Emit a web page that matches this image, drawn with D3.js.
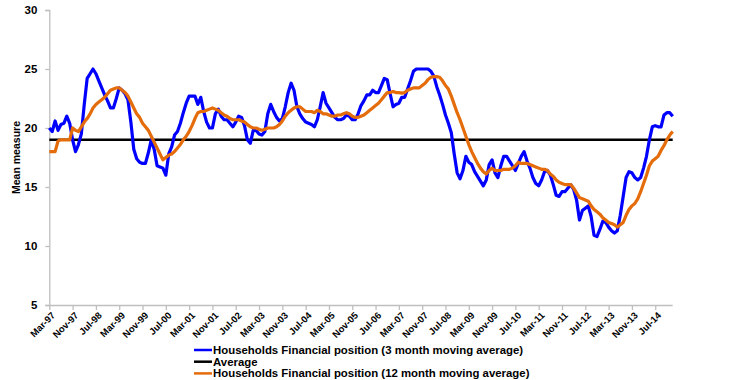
<!DOCTYPE html>
<html>
<head>
<meta charset="utf-8">
<script src="https://cdn.jsdelivr.net/npm/d3@7"></script>
<style>
  body { margin: 0; background: #fff; }
  svg { display: block; font-family: "Liberation Sans", Arial, sans-serif; }
</style>
</head>
<body>
<svg width="740" height="380"></svg>
<script>
// monthly series, Mar-97 .. Jan-15
const startMonth = new Date(1997, 2, 1);

const threeMonthAvg = [
  20.0, 19.7, 20.6, 19.8, 20.3, 20.4, 21.0, 20.4, 19.0, 18.0,
  18.6, 19.5, 22.0, 24.2, 24.6, 25.0, 24.6, 24.0, 23.4, 22.8,
  22.3, 21.7, 21.7, 22.5, 23.4, 23.2, 22.9, 22.4, 20.5, 18.2,
  17.4, 17.1, 17.0, 17.0, 17.9, 19.0, 18.2, 16.8, 16.7, 16.6,
  16.0, 17.8, 18.4, 19.4, 19.7, 20.4, 21.3, 22.1, 22.7, 22.7,
  22.7, 22.0, 22.6, 21.4, 20.5, 20.0, 20.0, 21.2, 21.6, 21.0,
  20.7, 20.7, 20.4, 20.1, 20.5, 21.0, 20.9, 20.2, 19.0, 18.7,
  19.8, 19.8, 19.5, 19.4, 19.7, 21.2, 22.0, 21.4, 20.9, 20.6,
  20.8, 21.8, 23.0, 23.8, 23.2, 21.8, 21.2, 20.8, 20.5, 20.4,
  20.3, 20.1, 20.7, 21.8, 23.0, 22.1, 21.7, 21.3, 20.9, 20.7,
  20.7, 20.8, 21.1, 21.0, 20.7, 20.7, 21.2, 21.9, 22.3, 22.8,
  22.8, 23.2, 23.0, 23.0, 23.6, 24.2, 24.1, 22.9, 21.8, 22.0,
  22.1, 22.6, 22.6, 23.3, 24.0, 24.8, 25.0, 25.0, 25.0, 25.0,
  25.0, 24.8, 24.4, 23.5, 22.8, 22.0, 21.1, 20.4, 19.6, 17.8,
  16.2, 15.7, 16.4, 17.6, 17.1, 16.9, 16.3, 15.9, 15.5, 15.1,
  15.6, 16.9, 17.3, 16.2, 15.8, 16.8, 17.6, 17.6, 17.2, 16.8,
  16.4, 17.0, 17.6, 18.0, 17.2, 16.6, 15.8, 15.3, 15.1, 15.6,
  16.3, 16.4, 16.0, 15.2, 14.3, 14.2, 14.6, 14.6, 14.9, 15.2,
  14.8, 13.9, 12.2, 13.0, 13.2, 13.4, 12.5, 10.9, 10.8, 11.4,
  12.1, 12.0, 11.6, 11.3, 11.1, 11.3, 12.6, 14.2, 15.8, 16.3,
  16.2, 15.8, 15.6, 15.8, 16.6, 17.6, 19.0, 20.1, 20.2, 20.1,
  20.1, 21.1, 21.3, 21.3, 21.0
];

const twelveMonthAvg = [
  18.0, 18.0, 18.0, 18.9, 19.0, 19.0, 19.0, 19.0, 20.0, 19.8,
  19.7, 20.1, 20.5, 20.8, 21.2, 21.7, 22.0, 22.2, 22.4, 22.6,
  22.9, 23.2, 23.3, 23.4, 23.4, 23.2, 23.0, 22.7, 22.2, 21.7,
  21.2, 20.9, 20.4, 20.1, 19.8, 19.3, 18.8, 18.3, 17.8, 17.3,
  17.5, 17.7, 17.8, 18.0, 18.3, 18.6, 19.0, 19.3, 19.7, 20.2,
  20.8, 21.3, 21.4, 21.4, 21.5, 21.6, 21.7, 21.6, 21.5, 21.3,
  21.1, 21.0, 20.8, 20.7, 20.7, 20.7, 20.6, 20.5, 20.3, 20.1,
  20.0, 20.0, 19.9, 19.8, 19.9, 20.0, 20.0, 20.0, 20.1, 20.3,
  20.6, 21.0, 21.3, 21.5, 21.7, 21.8, 21.8, 21.6, 21.4, 21.4,
  21.4, 21.3, 21.5, 21.4, 21.2, 21.2, 21.1, 21.0, 21.0, 21.1,
  21.1, 21.2, 21.3, 21.2, 21.0, 20.9, 20.9, 21.0, 21.1, 21.3,
  21.5, 21.7, 21.9, 22.1, 22.4, 22.7, 23.0, 23.0, 23.1, 23.0,
  23.0, 22.95, 23.0, 23.2, 23.3, 23.4, 23.4, 23.4, 23.6, 23.8,
  24.1, 24.3, 24.35, 24.35, 24.3, 24.0, 23.6, 23.3, 22.7, 22.0,
  21.3, 20.7, 20.0, 19.3, 18.6, 18.0, 17.5, 17.0, 16.6, 16.3,
  16.1, 16.4, 16.6, 16.4, 16.4, 16.4, 16.5, 16.5, 16.5, 16.6,
  16.8, 17.1, 17.0, 17.0, 17.0, 16.9, 16.8, 16.7, 16.6, 16.5,
  16.5, 16.4, 16.1, 15.9, 15.6, 15.4, 15.3, 15.2, 15.2, 15.2,
  14.9, 14.5, 14.1, 14.0, 13.9, 13.8, 13.4, 13.1, 12.9, 12.7,
  12.4, 12.2, 12.0, 11.9, 11.8, 11.6, 11.8, 12.0, 12.6, 13.1,
  13.4, 13.6, 14.0, 14.6, 15.3, 16.0, 16.8, 17.2, 17.4, 17.6,
  18.1, 18.5, 19.0, 19.4, 19.7
];

const averageValue = 19.0;

const tickLabels = [
  "Mar-97", "Nov-97", "Jul-98", "Mar-99", "Nov-99", "Jul-00", "Mar-01",
  "Nov-01", "Jul-02", "Mar-03", "Nov-03", "Jul-04", "Mar-05", "Nov-05",
  "Jul-06", "Mar-07", "Nov-07", "Jul-08", "Mar-09", "Nov-09", "Jul-10",
  "Mar-11", "Nov-11", "Jul-12", "Mar-13", "Nov-13", "Jul-14"
];
const yTicks = [5, 10, 15, 20, 25, 30];

const seriesNames = [
  "Households Financial position (3 month moving average)",
  "Average",
  "Households Financial position (12 month moving average)"
];
const seriesColors = ["#0000ff", "#000000", "#e46c0a"];

// build month category labels
const fmt = d3.timeFormat("%b-%y");
const months = threeMonthAvg.map((_, i) => fmt(d3.timeMonth.offset(startMonth, i)));

const svg = d3.select("svg");
const plotL = 49.3, plotR = 672.7, plotT = 10, plotB = 305;

const x = d3.scalePoint().domain(months).range([plotL, plotR]);
const y = d3.scaleLinear().domain([5, 30]).range([plotB, plotT]);

// y axis
const yAxis = svg.append("g")
    .attr("transform", `translate(${plotL},0)`)
    .call(d3.axisLeft(y).tickValues(yTicks).tickSize(4).tickPadding(8));
yAxis.select(".domain").attr("stroke", "#bfbfbf").attr("stroke-width", 1.3);
yAxis.selectAll(".tick line").attr("stroke", "#bfbfbf").attr("stroke-width", 1.3);
yAxis.selectAll(".tick text")
    .attr("font-size", 11.5).attr("font-weight", "bold").attr("fill", "#000")
    .attr("font-family", "Liberation Sans, Arial, sans-serif");

// x axis
const xAxis = svg.append("g")
    .attr("transform", `translate(0,${plotB})`)
    .call(d3.axisBottom(x).tickValues(tickLabels).tickSize(5).tickSizeOuter(0));
xAxis.select(".domain").attr("stroke", "#bfbfbf").attr("stroke-width", 1.3)
    .attr("d", `M${plotL},0.5H${plotR}`);
xAxis.selectAll(".tick line").attr("stroke", "#bfbfbf").attr("stroke-width", 1.3);
xAxis.selectAll(".tick text")
    .attr("font-size", 9.5).attr("font-weight", "bold").attr("fill", "#000")
    .attr("font-family", "Liberation Sans, Arial, sans-serif")
    .attr("text-anchor", "end")
    .attr("y", 0).attr("dy", 0)
    .attr("transform", "translate(6,11) rotate(-45)");

// y title
svg.append("text")
    .attr("transform", `translate(20,${(plotT + plotB) / 2}) rotate(-90)`)
    .attr("text-anchor", "middle")
    .attr("font-size", 10.5).attr("font-weight", "bold")
    .text("Mean measure");

const line = d3.line()
    .x((d, i) => x(months[i]))
    .y(d => y(d));

// average line
svg.append("line")
    .attr("x1", plotL).attr("x2", plotR)
    .attr("y1", y(averageValue)).attr("y2", y(averageValue))
    .attr("stroke", seriesColors[1]).attr("stroke-width", 2.5);

svg.append("path")
    .datum(threeMonthAvg)
    .attr("fill", "none")
    .attr("stroke", seriesColors[0])
    .attr("stroke-width", 3.2)
    .attr("stroke-linejoin", "round")
    .attr("d", line);

svg.append("path")
    .datum(twelveMonthAvg)
    .attr("fill", "none")
    .attr("stroke", seriesColors[2])
    .attr("stroke-width", 3.2)
    .attr("stroke-linejoin", "round")
    .attr("d", line);

// legend
const legend = svg.append("g").attr("transform", "translate(194,350)");
seriesNames.forEach((name, i) => {
    const row = legend.append("g").attr("transform", `translate(0,${i * 11.7})`);
    row.append("line")
        .attr("x1", 0).attr("x2", 18).attr("y1", 0).attr("y2", 0)
        .attr("stroke", seriesColors[i]).attr("stroke-width", 2.5);
    row.append("text")
        .attr("x", 19).attr("y", 0).attr("dy", "0.35em")
        .attr("font-size", 11.4).attr("font-weight", "bold")
        .text(name);
});
</script>
</body>
</html>
